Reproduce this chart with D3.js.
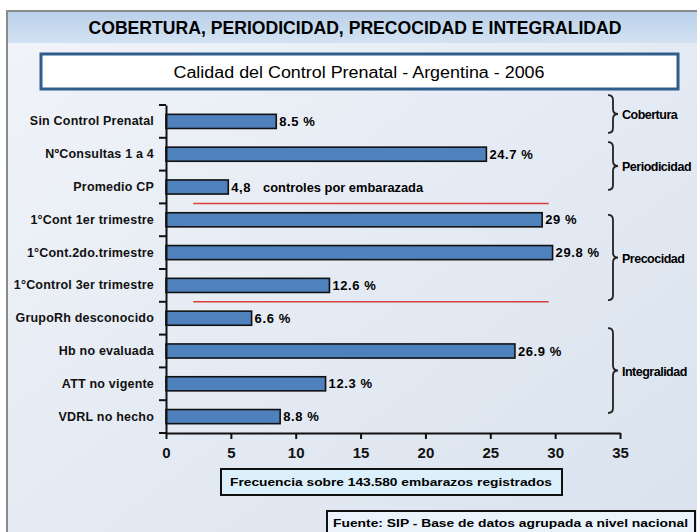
<!DOCTYPE html>
<html>
<head>
<meta charset="utf-8">
<script src="https://cdn.jsdelivr.net/npm/d3@7"></script>
<style>
  html, body { margin: 0; padding: 0; background: #fff; }
  svg { display: block; font-family: "Liberation Sans", Arial, sans-serif; }
</style>
</head>
<body>
<svg id="chart"></svg>
<script>
const categories = [
  "Sin Control Prenatal", "NºConsultas 1 a 4", "Promedio CP",
  "1°Cont 1er trimestre", "1°Cont.2do.trimestre", "1°Control 3er trimestre",
  "GrupoRh desconocido", "Hb no evaluada", "ATT no vigente", "VDRL no hecho"
];
const values = [8.5, 24.7, 4.8, 29, 29.8, 12.6, 6.6, 26.9, 12.3, 8.8];
const valueLabels = ["8.5 %", "24.7 %", "4,8", "29 %", "29.8 %", "12.6 %", "6.6 %", "26.9 %", "12.3 %", "8.8 %"];
const xTicks = [0, 5, 10, 15, 20, 25, 30, 35];
// groups on the right, in category-position units
const groupNames = ["Cobertura", "Periodicidad", "Precocidad", "Integralidad"];
const groupSpans = [[-0.8, 0.35], [0.63, 2.09], [2.85, 5.45], [6.3, 8.89]];
// red separators after these categories
const separators = [2, 5];

const width = 697, height = 532;
const svg = d3.select("#chart").attr("width", width).attr("height", height);

// background
const defs = svg.append("defs");
const bg = defs.append("linearGradient").attr("id", "bg").attr("x1", 0).attr("y1", 0).attr("x2", 1).attr("y2", 1);
bg.append("stop").attr("offset", "0%").attr("stop-color", "#f1f4f9");
bg.append("stop").attr("offset", "100%").attr("stop-color", "#d9e2ee");
const hd = defs.append("linearGradient").attr("id", "hd").attr("x1", 0).attr("y1", 0).attr("x2", 0).attr("y2", 1);
hd.append("stop").attr("offset", "0%").attr("stop-color", "#b9d0ea");
hd.append("stop").attr("offset", "100%").attr("stop-color", "#d3e2f2");

svg.append("rect").attr("width", width).attr("height", height).attr("fill", "#fff");
svg.append("rect").attr("x", 6).attr("y", 10).attr("width", width - 6).attr("height", height - 10).attr("fill", "url(#bg)");
svg.append("rect").attr("x", 6).attr("y", 10).attr("width", width - 6).attr("height", 33).attr("fill", "url(#hd)");
svg.append("path").attr("d", `M7,${height}V11H${width}`).attr("fill", "none").attr("stroke", "#8a8a8a").attr("stroke-width", 2);

svg.append("text").attr("x", 355).attr("y", 34).attr("text-anchor", "middle")
  .attr("font-family", "'Liberation Sans Narrow', 'Arial Narrow', sans-serif")
  .attr("font-weight", "bold").attr("font-size", 18)
  .attr("textLength", 533).attr("lengthAdjust", "spacingAndGlyphs")
  .text("COBERTURA, PERIODICIDAD, PRECOCIDAD E INTEGRALIDAD");

svg.append("rect").attr("x", 41).attr("y", 54).attr("width", 637).attr("height", 35)
  .attr("fill", "#fff").attr("stroke", "#2f5d8c").attr("stroke-width", 3);
svg.append("text").attr("x", 359).attr("y", 78).attr("text-anchor", "middle")
  .attr("font-family", "'Liberation Sans Narrow', 'Arial Narrow', sans-serif")
  .attr("font-size", 16)
  .attr("textLength", 371).attr("lengthAdjust", "spacingAndGlyphs")
  .text("Calidad del Control Prenatal - Argentina - 2006");

// scales
const x = d3.scaleLinear().domain([0, 35]).range([166, 620]);
const y = d3.scaleBand().domain(categories).range([105, 433]).paddingInner(0.57).paddingOuter(0.285);
const pos = p => 105 + y.step() * (p + 0.5);

// bars
svg.append("g").selectAll("rect").data(values).join("rect")
  .attr("x", x(0))
  .attr("y", (d, i) => y(categories[i]))
  .attr("width", d => x(d) - x(0))
  .attr("height", y.bandwidth())
  .attr("fill", "#4f81bd").attr("stroke", "#111").attr("stroke-width", 1.6);

// value labels
const vl = svg.append("g").selectAll("text").data(values).join("text")
  .attr("x", d => x(d) + 3)
  .attr("y", (d, i) => y(categories[i]) + y.bandwidth() / 2 + 4.5)
  .attr("font-weight", "bold").attr("font-size", 13).attr("letter-spacing", 0.6)
  .text((d, i) => valueLabels[i]);
vl.filter((d, i) => i === 2).append("tspan").attr("dx", 12).attr("font-size", 12)
  .attr("letter-spacing", 0).attr("textLength", 160).attr("lengthAdjust", "spacingAndGlyphs")
  .text("controles por embarazada");

// red separators
svg.append("g").selectAll("line").data(separators).join("line")
  .attr("x1", x(2.1)).attr("x2", x(29.5))
  .attr("y1", d => pos(d + 0.5)).attr("y2", d => pos(d + 0.5))
  .attr("stroke", "#d9403a").attr("stroke-width", 1.5);

// y axis
const yAxis = svg.append("g").attr("transform", `translate(${x(0)},0)`)
  .call(d3.axisLeft(y).tickSize(0).tickPadding(12));
yAxis.select(".domain").attr("stroke", "#111").attr("stroke-width", 2);
yAxis.selectAll("text").attr("font-weight", "bold").attr("font-size", 12.5).attr("fill", "#111").attr("letter-spacing", 0.2);
const bounds = d3.range(categories.length + 1).map(i => pos(i - 0.5));
yAxis.append("g").selectAll("line").data(bounds).join("line")
  .attr("x1", -7).attr("x2", 0).attr("y1", d => d).attr("y2", d => d)
  .attr("stroke", "#111").attr("stroke-width", 2);

// x axis
const xAxis = svg.append("g").attr("transform", "translate(0,433)")
  .call(d3.axisBottom(x).tickValues(xTicks).tickSize(6).tickPadding(8).tickSizeOuter(0));
xAxis.select(".domain").attr("stroke", "#111").attr("stroke-width", 2);
xAxis.selectAll(".tick line").attr("stroke", "#111").attr("stroke-width", 2);
xAxis.selectAll("text").attr("font-weight", "bold").attr("font-size", 15).attr("fill", "#111");

// x axis title box
svg.append("rect").attr("x", 221).attr("y", 469).attr("width", 341).attr("height", 26)
  .attr("fill", "#dcf0fb").attr("stroke", "#111").attr("stroke-width", 2);
svg.append("text").attr("x", 391).attr("y", 486).attr("text-anchor", "middle")
  .attr("font-weight", "bold").attr("font-size", 11.5)
  .attr("textLength", 322).attr("lengthAdjust", "spacingAndGlyphs")
  .text("Frecuencia sobre 143.580 embarazos registrados");

// source box
svg.append("rect").attr("x", 327).attr("y", 511).attr("width", 368).attr("height", 30)
  .attr("fill", "#eaf3fb").attr("stroke", "#111").attr("stroke-width", 2);
svg.append("text").attr("x", 333).attr("y", 527)
  .attr("font-weight", "bold").attr("font-size", 11.5)
  .attr("textLength", 355).attr("lengthAdjust", "spacingAndGlyphs")
  .text("Fuente: SIP - Base de datos agrupada a nivel nacional");

// group brackets
const bx = 613;
const brace = (y0, y1) => {
  const ym = (y0 + y1) / 2, r = 5;
  return `M${bx - 5},${y0} Q${bx},${y0} ${bx},${y0 + r} L${bx},${ym - r} Q${bx},${ym} ${bx + 5},${ym} ` +
         `Q${bx},${ym} ${bx},${ym + r} L${bx},${y1 - r} Q${bx},${y1} ${bx - 5},${y1}`;
};
const grp = svg.append("g").selectAll("g").data(groupNames).join("g");
grp.append("path").attr("d", (d, i) => brace(pos(groupSpans[i][0]), pos(groupSpans[i][1])))
  .attr("fill", "none").attr("stroke", "#222").attr("stroke-width", 1.8);
grp.append("text").attr("x", bx + 9)
  .attr("y", (d, i) => (pos(groupSpans[i][0]) + pos(groupSpans[i][1])) / 2 + 5)
  .attr("font-size", 12.5).attr("font-weight", "bold").attr("letter-spacing", -0.5)
  .text(d => d);
</script>
</body>
</html>
